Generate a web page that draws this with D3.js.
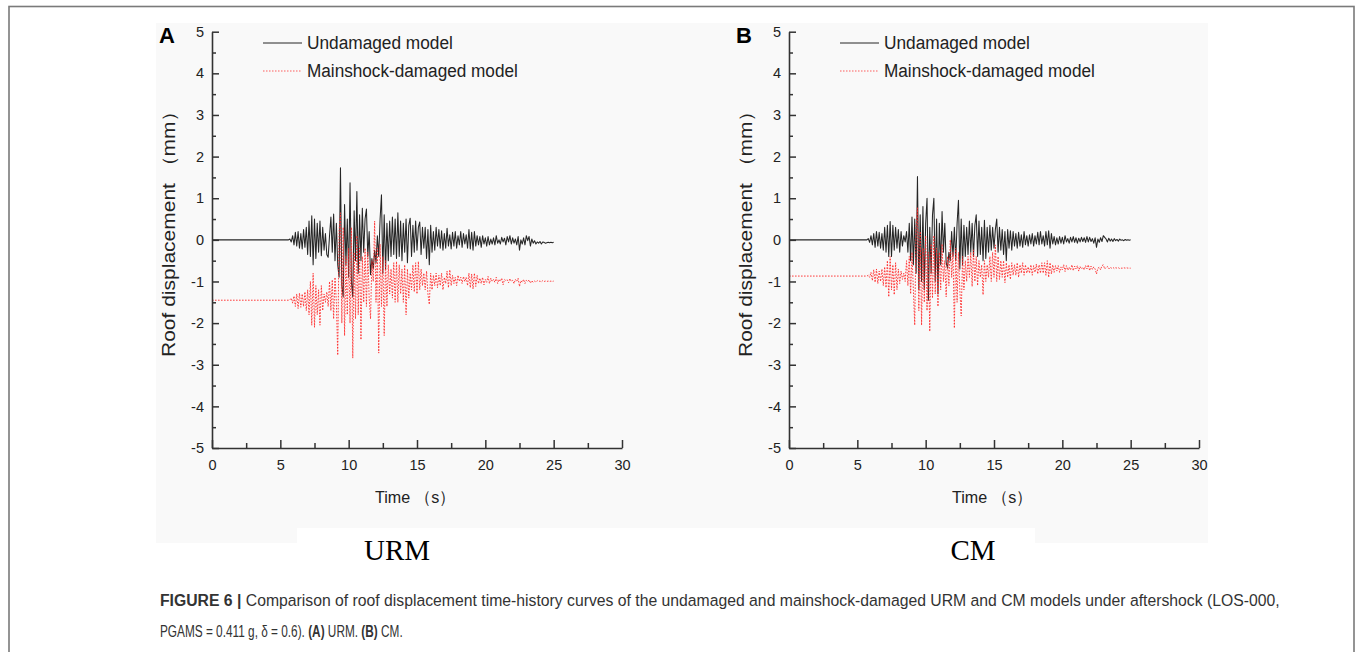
<!DOCTYPE html>
<html>
<head>
<meta charset="utf-8">
<script src="https://cdn.jsdelivr.net/npm/d3@7"></script>
<style>
  html, body { margin: 0; padding: 0; background: #ffffff; }
  svg { display: block; }
  text { font-family: "Liberation Sans", Arial, sans-serif; }
</style>
</head>
<body>
<svg id="fig" width="1357" height="652"></svg>
<script>
// ---- data -------------------------------------------------------------
// roof displacement (mm) sampled every 0.1 s from 5.6 s to 25.0 s;
// before 5.6 s each record sits at its first value (from t = 0)
const sampleStart = 5.6;
const sampleStep = 0.1;

const timeTicks = [0, 5, 10, 15, 20, 25, 30];
const timeMinorTicks = [2.5, 7.5, 12.5, 17.5, 22.5, 27.5];
const dispTicks = [-5, -4, -3, -2, -1, 0, 1, 2, 3, 4, 5];
const dispMinorTicks = [-4.5, -3.5, -2.5, -1.5, -0.5, 0.5, 1.5, 2.5, 3.5, 4.5];

const seriesNames = ["Undamaged model", "Mainshock-damaged model"];
const panelLetters = ["A", "B"];
const panelModels = ["URM", "CM"];

const urmUndamaged = [
  0, 0.02, -0.05, 0.1, -0.12, 0.18, -0.15, 0.2, -0.2, 0.15,
  -0.22, 0.25, -0.18, 0.3, -0.35, 0.45, -0.4, 0.58, -0.6, 0.5,
  -0.45, 0.4, -0.3, 0.45, -0.38, 0.3, -0.25, 0.15, -0.35, -0.42,
  0.1, 0.55, -0.3, 0.62, -0.5, 0.4, -0.6, -0.9, 1.73, -1.1,
  -1.37, 0.85, -0.6, 0.5, -0.9, 1.37, -1.0, -1.37, 0.7, -0.5,
  1.16, -0.8, 0.6, -0.5, 0.76, -0.3, 0.5, 0.74, -0.4, 0.2,
  -0.84, -0.45, -0.7, -0.25, -0.55, 0.1, -0.4, 0.5, 1.08, -0.8,
  0.6, -0.7, 0.4, -0.5, 0.45, -0.4, 0.55, -0.35, 0.5, -0.45,
  0.65, -0.4, 0.45, -0.5, 0.4, -0.3, 0.5, -0.55, 0.35, 0.52,
  -0.4, 0.35, -0.3, 0.45, -0.25, 0.3, 0.43, -0.35, 0.3, -0.2,
  0.3, -0.45, 0.25, -0.6, 0.35, -0.3, 0.2, -0.25, 0.3, -0.15,
  0.25, -0.2, 0.22, -0.25, 0.15, -0.2, 0.28, -0.15, 0.12, -0.22,
  0.18, -0.15, 0.2, -0.2, 0.1, -0.12, 0.2, -0.18, 0.15, -0.1,
  0.12, -0.2, 0.25, -0.22, 0.18, -0.25, 0.2, -0.15, 0.1, -0.12,
  0.08, -0.18, 0.1, -0.1, 0.05, -0.15, 0.08, -0.12, 0.02, -0.1,
  0.05, -0.12, 0.1, -0.08, 0.0, -0.1, 0.06, -0.05, 0.04, -0.12,
  0.08, -0.05, 0.1, -0.1, 0.05, -0.08, 0.02, -0.12, 0.08, -0.25,
  0.0, -0.1, 0.05, -0.12, 0.1, -0.02, 0.08, -0.15, 0.02, -0.08,
  -0.02, -0.1, -0.05, -0.08, -0.04, -0.1, -0.05, -0.06, -0.08, -0.07,
  -0.06, -0.07, -0.06, -0.07, -0.06
];

const urmDamaged = [
  -1.45, -1.44, -1.4, -1.52, -1.35, -1.6, -1.3, -1.65, -1.28, -1.62,
  -1.3, -1.6, -1.25, -1.7, -1.2, -1.8, -1.0, -2.05, -0.8, -2.1,
  -1.1, -1.8, -1.2, -2.05, -1.1, -1.7, -1.3, -1.5, -1.25, -1.6,
  -1.0, -1.7, -0.96, -1.9, -0.9, -1.5, -2.77, 0.2, 0.65, -2.0,
  0.3, -2.3, -0.4, -1.8, -0.2, -2.0, 0.3, -2.84, -0.3, -1.9,
  0.1, -1.8, -0.2, -2.4, -0.4, -1.5, -0.2, -1.6, -0.3, -1.4,
  -1.9, -0.5, -1.0, 0.45, -1.5, -0.2, -2.72, -0.1, -1.6, -0.4,
  -2.3, -0.5, -1.6, -0.6, -1.3, -0.7, -1.4, -0.55, -1.5, -0.52,
  -1.5, -0.6, -1.3, -0.7, -1.5, -0.6, -1.8, -0.7, -1.4, -0.8,
  -1.2, -0.6, -1.25, -0.55, -1.3, -0.52, -1.2, -0.7, -1.1, -0.8,
  -1.2, -0.75, -1.3, -1.55, -0.8, -1.2, -0.85, -1.1, -0.8, -1.15,
  -0.85, -1.1, -0.8, -1.2, -0.9, -1.05, -0.75, -1.15, -0.72, -1.1,
  -0.85, -1.05, -0.9, -1.1, -0.85, -1.0, -0.9, -1.05, -0.88, -1.0,
  -0.9, -1.1, -0.8, -1.15, -0.82, -1.18, -0.8, -1.12, -0.85, -1.05,
  -0.92, -1.05, -0.9, -1.08, -0.95, -1.02, -0.88, -1.05, -0.92, -1.0,
  -0.95, -1.02, -0.9, -1.05, -0.95, -1.0, -0.92, -1.08, -0.95, -0.98,
  -0.96, -1.03, -0.93, -1.0, -0.97, -1.05, -0.95, -1.0, -0.92, -1.12,
  -0.98, -1.02, -0.95, -1.05, -0.97, -1.0, -0.96, -1.04, -0.98, -1.02,
  -0.99, -1.01, -0.98, -1.0, -0.99, -1.01, -0.98, -1.0, -0.99, -1.0,
  -0.99, -1.0, -0.99, -1.0, -0.99
];

const cmUndamaged = [
  0, 0, 0.03, -0.06, 0.1, -0.12, 0.15, -0.18, 0.2, -0.15,
  0.18, -0.2, 0.15, -0.25, 0.3, -0.3, 0.35, -0.4, 0.44, -0.4,
  0.35, -0.25, 0.3, -0.2, 0.25, -0.3, 0.2, -0.15, 0.1, -0.05,
  0.2, -0.3, 0.4, -0.5, 0.55, -0.6, 0.5, -0.8, 1.52, -1.2,
  0.6, -1.0, 0.8, -1.2, 0.4, 1.0, -1.45, 0.3, -0.8, 0.6,
  1.0, -1.0, 0.5, -1.3, 0.4, -0.6, 0.68, -0.3, 0.4, -0.55,
  -0.68, -0.3, -0.5, 0.2, -0.4, 0.3, -0.5, 0.4, 0.95, -0.7,
  0.5, -0.6, 0.35, -0.4, 0.3, -0.35, 0.45, -0.3, 0.4, -0.4,
  0.35, 0.6, -0.4, 0.45, -0.35, 0.3, -0.5, 0.47, -0.45, 0.3,
  -0.3, 0.35, -0.25, 0.3, -0.2, 0.25, 0.5, -0.3, 0.3, -0.25,
  0.25, -0.35, 0.2, -0.5, 0.25, -0.2, 0.22, -0.25, 0.2, -0.15,
  0.15, -0.2, 0.18, -0.15, 0.12, -0.18, 0.2, -0.12, 0.1, -0.15,
  0.12, -0.1, 0.15, -0.15, 0.1, -0.1, 0.18, -0.12, 0.2, -0.1,
  0.1, -0.15, 0.2, -0.12, 0.22, -0.2, 0.15, -0.1, 0.08, -0.12,
  0.05, -0.1, 0.08, -0.08, 0.06, -0.1, 0.1, -0.05, 0.03, -0.08,
  0.06, -0.05, 0.08, -0.06, 0.05, -0.08, 0.04, -0.05, 0.06, -0.04,
  0.05, -0.06, 0.08, -0.05, 0.06, -0.04, 0.03, -0.08, 0.05, -0.18,
  0.02, -0.06, 0.05, -0.04, 0.1, 0.06, 0.02, -0.05, 0.04, -0.03,
  0.02, -0.04, 0.03, -0.02, 0.01, -0.03, 0.02, -0.01, 0.0, -0.02,
  0.01, -0.01, 0.0, -0.01, 0.0
];

const cmDamaged = [
  -0.87, -0.87, -0.85, -0.9, -0.78, -0.98, -0.72, -1.02, -0.7, -1.05,
  -0.75, -1.0, -0.7, -1.1, -0.65, -1.15, -0.5, -1.37, -0.4, -1.2,
  -0.6, -1.32, -0.55, -1.2, -0.7, -1.05, -0.75, -0.95, -0.8, -1.0,
  -0.5, -1.1, -0.4, -1.3, -0.3, -1.2, -2.05, 0.3, 0.77, -1.7,
  0.2, -2.05, -0.2, -1.5, 0.1, -1.7, -0.3, -2.2, -0.1, -1.4,
  0.1, -1.3, -0.2, -1.6, -0.3, -1.2, -0.1, -1.0, -0.5, -1.37,
  -0.4, -1.1, 0.0, -0.9, -0.3, -2.12, -0.2, -1.5, -0.3, -1.2,
  -1.83, -0.4, -1.2, -0.5, -1.0, -0.4, -0.9, -0.3, -1.12, -0.24,
  -1.0, -0.4, -1.1, -0.5, -0.9, -0.6, -1.32, -0.5, -1.0, -0.6,
  -0.9, -0.4, -1.0, -0.3, -0.9, -0.12, -1.0, -0.4, -0.95, -0.5,
  -0.9, -0.5, -1.03, -0.55, -0.9, -0.6, -0.95, -0.55, -0.85, -0.6,
  -0.85, -0.55, -0.9, -0.6, -0.8, -0.55, -0.85, -0.6, -0.8, -0.65,
  -0.8, -0.6, -0.85, -0.62, -0.78, -0.58, -0.82, -0.6, -0.8, -0.55,
  -0.8, -0.55, -0.85, -0.5, -0.9, -0.55, -0.82, -0.6, -0.78, -0.62,
  -0.75, -0.62, -0.78, -0.65, -0.72, -0.6, -0.76, -0.62, -0.73, -0.66,
  -0.72, -0.6, -0.74, -0.63, -0.7, -0.62, -0.75, -0.64, -0.7, -0.66,
  -0.72, -0.62, -0.7, -0.6, -0.74, -0.63, -0.71, -0.65, -0.7, -0.82,
  -0.68, -0.66, -0.72, -0.62, -0.6, -0.7, -0.66, -0.64, -0.7, -0.66,
  -0.68, -0.66, -0.69, -0.67, -0.68, -0.67, -0.69, -0.68, -0.68, -0.67,
  -0.68, -0.67, -0.68, -0.68, -0.68
];

const panels = [
  { letter: panelLetters[0], model: panelModels[0], undamaged: urmUndamaged, damaged: urmDamaged,
    left: 212, modelX: 397 },
  { letter: panelLetters[1], model: panelModels[1], undamaged: cmUndamaged, damaged: cmDamaged,
    left: 789, modelX: 973 }
];

// ---- layout -----------------------------------------------------------
const svg = d3.select("#fig");
const plotW = 410, plotTop = 31.7, plotBottom = 448;
const inkAxis = "#333333";
const inkBlack = "#262626";
const inkRed = "#ff2a2a";

// squeeze a text element horizontally to a given width, anchored at x0
function fitWidth(sel, x0, width) {
  const w = sel.node().getBBox().width;
  const k = w > 0 ? width / w : 1;
  sel.attr("transform", `translate(${x0},0) scale(${k},1) translate(${-x0},0)`);
  return k;
}

// outer frame and figure backdrop
svg.append("rect").attr("x", 9).attr("y", 6.5).attr("width", 1345).attr("height", 700)
  .attr("fill", "#ffffff").attr("stroke", "#7a7a7a").attr("stroke-width", 1.6);
svg.append("rect").attr("x", 156).attr("y", 23).attr("width", 1052).attr("height", 520)
  .attr("fill", "#f9f9f9");
svg.append("rect").attr("x", 297).attr("y", 528).attr("width", 738).attr("height", 20)
  .attr("fill", "#ffffff");

const toPoints = vals => [{ t: 0, v: vals[0] }].concat(
  vals.map((v, i) => ({ t: sampleStart + i * sampleStep, v })));

panels.forEach(p => {
  const x = d3.scaleLinear().domain([0, 30]).range([p.left, p.left + plotW]);
  const y = d3.scaleLinear().domain([-5, 5]).range([plotBottom, plotTop]);
  const g = svg.append("g");

  // traces
  const line = d3.line().x(d => x(d.t)).y(d => y(d.v));
  g.append("path").datum(toPoints(p.undamaged))
    .attr("d", line).attr("fill", "none")
    .attr("stroke", inkBlack).attr("stroke-width", 1.05).attr("stroke-linejoin", "round");
  g.append("path").datum(toPoints(p.damaged))
    .attr("d", line).attr("fill", "none")
    .attr("stroke", inkRed).attr("stroke-width", 1).attr("stroke-dasharray", "1.6,1.4")
    .attr("opacity", 0.9);

  // axes (ticks point into the plot)
  const fmt = d => String(d);
  g.append("g").attr("transform", `translate(0,${plotBottom})`)
    .call(d3.axisBottom(x).tickValues(timeTicks).tickSizeInner(-8).tickSizeOuter(0)
      .tickPadding(12).tickFormat(fmt));
  g.append("g").attr("transform", `translate(0,${plotBottom})`)
    .call(d3.axisBottom(x).tickValues(timeMinorTicks).tickSizeInner(-5).tickSizeOuter(0).tickFormat(""))
    .select(".domain").remove();
  g.append("g").attr("transform", `translate(${p.left},0)`)
    .call(d3.axisLeft(y).tickValues(dispTicks).tickSizeInner(-7).tickSizeOuter(0)
      .tickPadding(8).tickFormat(fmt));
  g.append("g").attr("transform", `translate(${p.left},0)`)
    .call(d3.axisLeft(y).tickValues(dispMinorTicks).tickSizeInner(-4).tickSizeOuter(0).tickFormat(""))
    .select(".domain").remove();
  g.selectAll(".domain").attr("stroke", inkAxis).attr("stroke-width", 1.6);
  g.selectAll(".tick line").attr("stroke", inkAxis).attr("stroke-width", 1.5);
  g.selectAll(".tick text").attr("fill", "#222")
    .style("font-family", "'Liberation Sans', Arial, sans-serif").style("font-size", "14.5px");

  // axis titles
  const xt = g.append("text").attr("x", p.left + 163).attr("y", 503)
    .attr("fill", "#222").style("font-size", "17px").text("Time （s）");
  fitWidth(xt, p.left + 163, 80);
  const ycx = p.left - 37, ycy = 357;
  const yt = g.append("text").attr("x", 0).attr("y", 0)
    .attr("fill", "#222").style("font-size", "17.5px").text("Roof displacement （mm）");
  const len = yt.node().getComputedTextLength();
  yt.attr("transform", `translate(${ycx},${ycy}) rotate(-90) scale(${258 / len},1)`);

  // panel letter
  g.append("text").attr("x", p.left - 53).attr("y", 43).attr("fill", "#000")
    .style("font-size", "22px").style("font-weight", "bold").text(p.letter);

  // legend
  const lx = p.left + 51;
  seriesNames.forEach((name, i) => {
    const ly = 43 + i * 28;
    g.append("line").attr("x1", lx).attr("x2", lx + 39).attr("y1", ly).attr("y2", ly)
      .attr("stroke", i === 0 ? inkBlack : inkRed).attr("stroke-width", i === 0 ? 1 : 1.2)
      .attr("stroke-dasharray", i === 0 ? null : "1.5,1.5").attr("opacity", i === 0 ? 1 : 0.75);
    const lt = g.append("text").attr("x", lx + 44).attr("y", ly + 6.5).attr("fill", "#222")
      .style("font-size", "18px").text(name);
    fitWidth(lt, lx + 44, i === 0 ? 146 : 211);
  });

  // model name under the panel
  svg.append("text").attr("x", p.modelX).attr("y", 560).attr("text-anchor", "middle")
    .attr("fill", "#000").style("font-family", "'Liberation Serif', 'Times New Roman', serif")
    .style("font-size", "29px").text(p.model);
});

// caption in a condensed setting
const cap1 = svg.append("text").attr("x", 160).attr("y", 606).attr("fill", "#333")
  .style("font-size", "17px");
cap1.append("tspan").style("font-weight", "bold").text("FIGURE 6 |");
cap1.append("tspan").text(" Comparison of roof displacement time-history curves of the undamaged and mainshock-damaged URM and CM models under aftershock (LOS-000,");
fitWidth(cap1, 160, 1121);

const cap2 = svg.append("text").attr("x", 160).attr("y", 637).attr("fill", "#333")
  .style("font-size", "17px");
cap2.append("tspan").text("PGAMS = 0.411 g, δ = 0.6). ");
cap2.append("tspan").style("font-weight", "bold").text("(A)");
cap2.append("tspan").text(" URM. ");
cap2.append("tspan").style("font-weight", "bold").text("(B)");
cap2.append("tspan").text(" CM.");
fitWidth(cap2, 160, 243);
</script>
</body>
</html>
